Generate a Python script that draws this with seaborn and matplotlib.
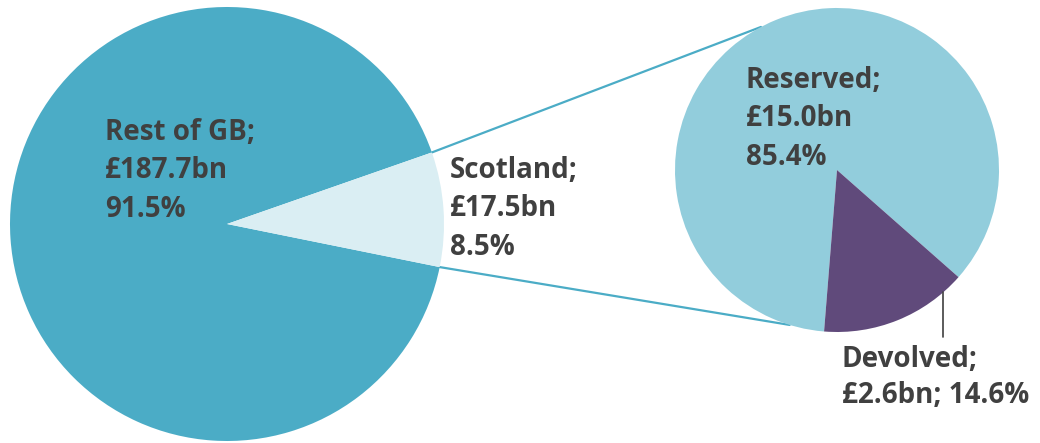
import numpy as np
import matplotlib
matplotlib.use("Agg")
import matplotlib.pyplot as plt
import seaborn as sns

# ---- data ----
main_labels = ["Rest of GB", "Scotland"]
main_values = [187.7, 17.5]          # £bn
main_pcts = [91.5, 8.5]
sub_labels = ["Reserved", "Devolved"]
sub_values = [15.0, 2.6]             # £bn
sub_pcts = [85.4, 14.6]

# ---- style ----
sns.set_theme(style="white")
plt.rcParams["font.family"] = ["Open Sans", "DejaVu Sans"]

main_colors = ["#4BACC6", "#DAEEF3"]
sub_colors = ["#92CDDC", "#604A7B"]
text_color = "#404040"
line_color = "#4BACC6"

W, H = 1040, 443
fig = plt.figure(figsize=(W / 100, H / 100), dpi=100)
ax = fig.add_axes([0, 0, 1, 1])
ax.set_xlim(0, W)
ax.set_ylim(0, H)
ax.set_axis_off()

def Y(y):  # pixel row -> data y
    return H - y

# left pie
lc = (227, Y(224)); lr = 217
scot_mid = 3.9
scot_span = 360 * main_values[1] / sum(main_values)
start_main = scot_mid + scot_span / 2
w_main, _ = ax.pie(main_values, colors=main_colors, startangle=start_main,
                   center=lc, radius=lr, counterclock=True,
                   wedgeprops=dict(linewidth=0), frame=True)

# right pie
rc = (837, Y(170)); rr = 162
w_sub, _ = ax.pie(sub_values, colors=sub_colors, startangle=-41.4,
                  center=rc, radius=rr, counterclock=True,
                  wedgeprops=dict(linewidth=0), frame=True)
ax.set_xlim(0, W)
ax.set_ylim(0, H)
ax.set_aspect("equal")
ax.set_axis_off()

def on_circle(c, r, ang):
    a = np.deg2rad(ang)
    return c[0] + r * np.cos(a), c[1] + r * np.sin(a)

# connector lines from Scotland wedge to the breakdown pie
t_lo, t_hi = w_main[1].theta1, w_main[1].theta2
p1 = on_circle(lc, lr, t_hi)
q1 = on_circle(rc, rr, 118)
p2 = on_circle(lc, lr, t_lo)
q2 = on_circle(rc, rr, 253)
ax.plot([p1[0], q1[0]], [p1[1], q1[1]], color=line_color, lw=1.6, zorder=0.5)
ax.plot([p2[0], q2[0]], [p2[1], q2[1]], color=line_color, lw=1.6, zorder=0.5)

# labels
fs = 20
def put(x, ybase, lines):
    for i, s in enumerate(lines):
        ax.text(x, Y(ybase + i * 38.3), s, fontsize=fs, fontweight="bold",
                color=text_color, ha="left", va="baseline", zorder=5)

put(105, 140, [f"{main_labels[0]};", f"£{main_values[0]:.1f}bn", f"{main_pcts[0]:.1f}%"])
put(450, 178, [f"{main_labels[1]};", f"£{main_values[1]:.1f}bn", f"{main_pcts[1]:.1f}%"])
put(746, 88, [f"{sub_labels[0]};", f"£{sub_values[0]:.1f}bn", f"{sub_pcts[0]:.1f}%"])
put(842, 367, [f"{sub_labels[1]};"])
put(842, 403, [f"£{sub_values[1]:.1f}bn; {sub_pcts[1]:.1f}%"])

# leader line for Devolved
ax.plot([943, 943], [Y(292), Y(337)], color="#404040", lw=1.2, zorder=4)

fig.savefig("out.png", dpi=100)
